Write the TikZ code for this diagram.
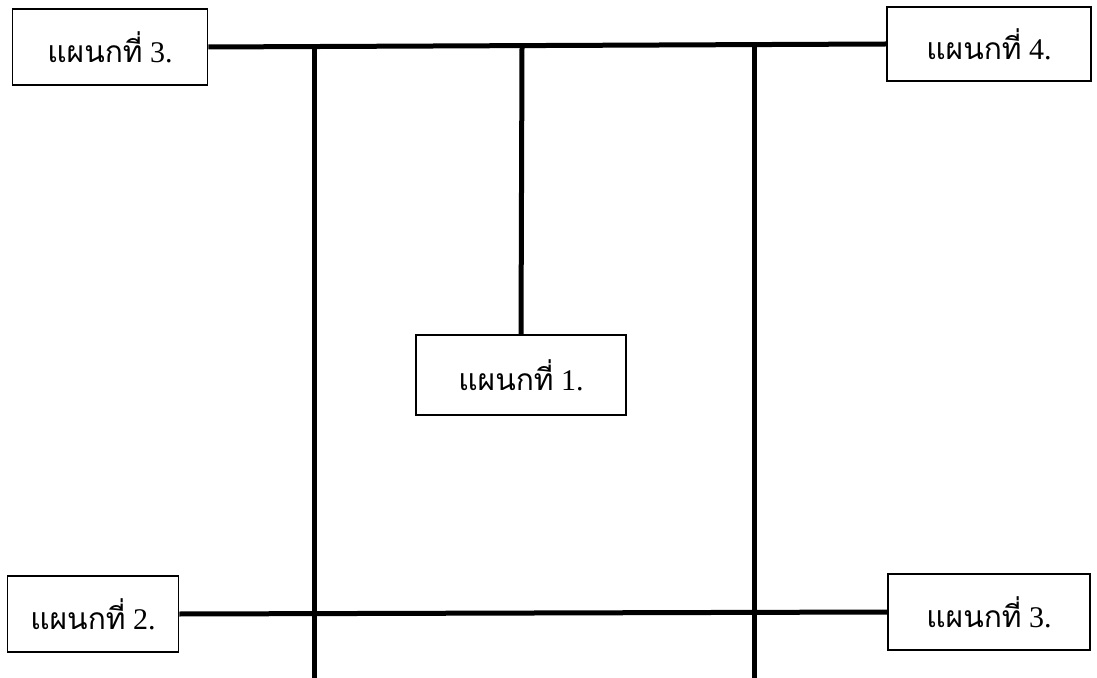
\documentclass[tikz,border=0pt]{standalone}
\usepackage{fontspec}
\setmainfont{Liberation Serif}
\newfontfamily\thaifont[Script=Thai]{Loma}
\newcommand{\dept}[1]{{\thaifont แผนกที่} #1.}
\begin{document}
\begin{tikzpicture}[x=0.5pt,y=-0.5pt,font=\fontsize{15}{17}\selectfont]
  \tikzset{deptbox/.style={draw, line width=0.8pt, minimum width=#1, minimum height=38pt, inner sep=0pt},
           link/.style={line width=2.5pt}}
  \useasboundingbox (0,0) rectangle (1097,678);
  \node[deptbox=97.5pt] (d3top) at (110,47) {\dept{3}};
  \node[deptbox=102pt, minimum height=37pt] (d4) at (989,44) {\dept{4}};
  \node[deptbox=105pt, minimum height=40pt] (d1) at (521,375) {\dept{1}};
  \node[deptbox=85.5pt] (d2) at (93,614) {\dept{2}};
  \node[deptbox=101pt] (d3bot) at (989,612) {\dept{3}};
  \coordinate (tl) at (314,47);
  \coordinate (tm) at (522,47);
  \coordinate (tr) at (754,47);
  \coordinate (bl) at (314,678);
  \coordinate (br) at (754,678);
  \draw[link] (d3top.east) -- (d4.west);
  \draw[link] (d2.east) -- (d3bot.west);
  \draw[link] (tl) -- (bl);
  \draw[link] (tr) -- (br);
  \draw[link] (tm) -- (d1.north);
\end{tikzpicture}
\end{document}
